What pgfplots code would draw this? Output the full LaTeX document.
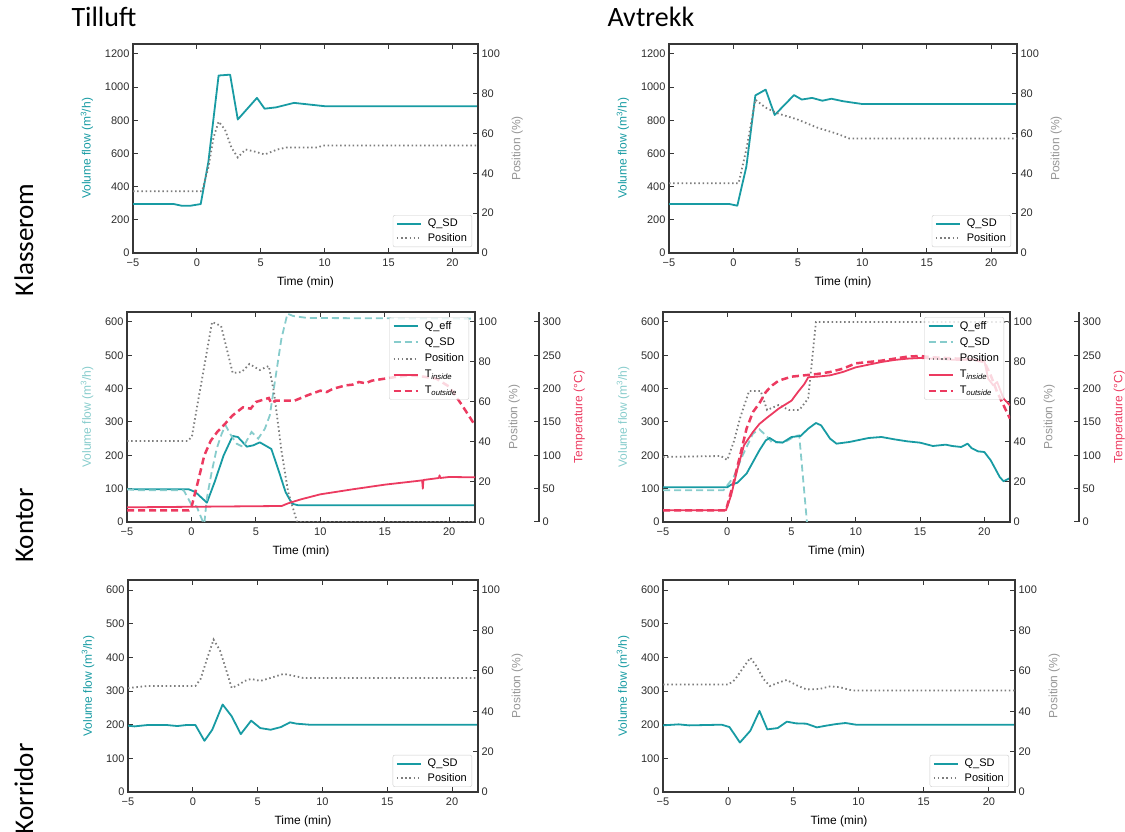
\documentclass[border=0pt]{standalone}
\usepackage{fontspec}
\setmainfont{Liberation Sans}
\newfontfamily\titlefont{Carlito}
\usepackage{pgfplots}
\pgfplotsset{compat=1.18}
\definecolor{qc}{RGB}{24,155,163}
\definecolor{qlc}{RGB}{135,204,204}
\definecolor{pc}{RGB}{125,125,125}
\definecolor{plab}{RGB}{150,150,150}
\definecolor{tc}{RGB}{236,58,96}
\definecolor{axc}{RGB}{55,55,55}
\definecolor{tickc}{RGB}{45,45,45}
\tikzset{
  myq/.style={color=qc, line width=1.8pt, line join=round},
  myql/.style={color=qlc, line width=1.8pt, dash pattern=on 7pt off 4pt},
  mypos/.style={color=pc, line width=1.8pt, dash pattern=on 1.5pt off 2.7pt},
  mytin/.style={color=tc, line width=1.8pt, line join=round},
  mytout/.style={color=tc, line width=2.5pt, dash pattern=on 7pt off 4pt},
}
\pgfplotsset{
  base/.style={scale only axis, xmin=-5, xmax=22, ymin=0,
    axis line style={line width=1.3pt, color=axc},
    every tick/.style={line width=1pt, color=axc},
    major tick length=5pt, tick align=inside,
    ticklabel style={font=\fontsize{11}{13}\selectfont, text=tickc},
    xticklabel style={yshift=-2pt},
    label style={font=\fontsize{12}{14}\selectfont},
    xlabel style={yshift=-4pt},
    /pgf/number format/assume math mode=true,
    /pgf/number format/set thousands separator={},
    xtick={-5,0,5,10,15,20}, xticklabels={−5,0,5,10,15,20},
    legend cell align=left,
    legend image code/.code={\draw[##1] (0pt,0pt) -- (24pt,0pt);},
    legend style={draw=black!20, fill=white, fill opacity=0.8, text opacity=1,
      rounded corners=2pt, font=\fontsize{11}{13}\selectfont, row sep=1pt,
      /tikz/every odd column/.append style={column sep=4pt}},
  },
  main/.style={base, ytick pos=left, xlabel={Time (min)},
    ylabel={Volume flow (m\textsuperscript{3}/h)}, ylabel style={yshift=5pt}},
  sec/.style={base, hide x axis, axis y line*=right, tick align=inside,
    ymax=105, ytick={0,20,...,100}, ylabel={Position (\%)}, ylabel style={text=plab, yshift=-5pt}},
  midleg/.style={legend style={at={(0.983,0.976)}, anchor=north east, row sep=3pt}},
}
\begin{document}
\begin{tikzpicture}
\path[use as bounding box] (0,0) rectangle (1125pt,832pt);
% titles
\node[anchor=base west, font=\titlefont\fontsize{28}{30}\selectfont] at (68pt,805pt) {Tilluft};
\node[anchor=base west, font=\titlefont\fontsize{28}{30}\selectfont] at (604pt,805pt) {Avtrekk};
\node[rotate=90, anchor=base east, font=\titlefont\fontsize{27}{30}\selectfont] at (33pt,652pt) {Klasserom};
\node[rotate=90, anchor=base east, font=\titlefont\fontsize{27}{30}\selectfont] at (33pt,347pt) {Kontor};
\node[rotate=90, anchor=base east, font=\titlefont\fontsize{27}{30}\selectfont] at (33pt,92pt) {Korridor};

% ===== Row 1 left =====
\begin{axis}[main, at={(133pt,579pt)}, anchor=south west, width=345pt, height=209pt,
  ymax=1260, ytick={0,200,...,1200}, ylabel style={text=qc}]
\addplot[myq] coordinates {(-5,295) (-1.8,295) (-1.2,285) (-0.5,285) (0.3,295) (0.9,550) (1.7,1070) (2.6,1075) (3.2,805) (4.7,935) (5.3,870) (6.2,878) (7.6,905) (10,885) (22,885)};
\end{axis}
\begin{axis}[sec, at={(133pt,579pt)}, anchor=south west, width=345pt, height=209pt,
  legend style={at={(0.983,0.028)}, anchor=south east}]
\addlegendimage{myq}\addlegendentry{Q\_SD}
\addplot[mypos] coordinates {(-5,31) (0.4,31) (0.9,43) (1.3,58) (1.7,66) (2.2,62) (2.7,53) (3.2,48) (3.8,52) (4.5,51) (5.3,49.5) (6.3,52) (7,53) (9.5,53) (9.8,54) (22,54)};
\addlegendentry{Position}
\end{axis}

% ===== Row 1 right =====
\begin{axis}[main, at={(669pt,579pt)}, anchor=south west, width=348pt, height=209pt,
  ymax=1260, ytick={0,200,...,1200}, ylabel style={text=qc}]
\addplot[myq] coordinates {(-5,295) (-0.3,295) (0.3,285) (1.0,520) (1.7,950) (2.5,985) (3.2,832) (4.7,952) (5.3,925) (6.1,935) (6.9,918) (7.6,930) (8.5,915) (10,898) (22,898)};
\end{axis}
\begin{axis}[sec, at={(669pt,579pt)}, anchor=south west, width=348pt, height=209pt,
  legend style={at={(0.983,0.028)}, anchor=south east}]
\addlegendimage{myq}\addlegendentry{Q\_SD}
\addplot[mypos] coordinates {(-5,35) (0.4,35) (1.0,52) (1.7,77) (2.5,73) (3.5,70) (5,67) (6.5,63) (8,60) (9,57.5) (22,57.5)};
\addlegendentry{Position}
\end{axis}

% ===== Row 2 left =====
\begin{axis}[main, at={(127pt,310pt)}, anchor=south west, width=348pt, height=210pt,
  ymax=630, ytick={0,100,...,600}, ylabel style={text=qlc}]
\addplot[myq] coordinates {(-5,98) (-0.2,98) (0.3,90) (1.2,58) (1.8,120) (2.5,200) (3.2,258) (3.6,255) (4.3,226) (4.8,230) (5.3,239) (5.8,228) (6.2,219) (6.8,150) (7.3,90) (7.8,55) (8.3,50) (22,50)};
\addplot[myql] coordinates {(-5,98) (-4,95) (-0.6,95) (0.03,50) (0.4,47) (0.95,-5) (1.0,-5) (1.19,70) (1.57,150) (1.96,220) (2.35,265) (2.65,290) (2.99,265) (3.5,235) (4.02,225) (4.66,270) (5.18,250) (5.7,280) (6.08,320) (6.47,420) (6.98,550) (7.45,625) (7.89,618) (9,612) (22,610)};
\end{axis}
\begin{axis}[sec, at={(127pt,310pt)}, anchor=south west, width=348pt, height=210pt]
\addplot[mypos] coordinates {(-5,40.5) (-0.3,40.5) (0.03,42.5) (0.5,60) (1.0,78) (1.6,100) (2.3,98) (2.8,85) (3.2,74.5) (3.9,75) (4.5,79) (5.3,76) (6.0,78) (6.4,65) (7.0,35) (7.5,15) (8.2,0) (22,0)};
\end{axis}
\begin{axis}[base, at={(127pt,310pt)}, anchor=south west, width=348pt, height=210pt,
  hide x axis, hide y axis, ymax=315, midleg]
\addlegendimage{myq}\addlegendentry{Q\_eff}
\addlegendimage{myql}\addlegendentry{Q\_SD}
\addlegendimage{mypos}\addlegendentry{Position}
\addplot[mytin] coordinates {(-5,22) (7.0,24) (7.5,28) (8.5,34) (10,41.5) (12.5,49) (15,56) (17.5,61.5) (17.9,62.5) (17.95,50) (18.0,63) (19.2,66) (19.25,70) (19.3,66) (20,67.5) (22,67)};
\addlegendentry{T\textsubscript{\textit{inside}}}
\addplot[mytout] coordinates {(-5,17.5) (-0.2,17.5) (0,22) (0.5,60) (1,100) (1.5,122) (2,135) (2.5,145) (3.2,160) (4,172) (4.6,170) (5,180) (6,186) (6.2,178) (6.5,182) (7,182) (8,182) (9,190) (10,197) (10.5,195) (11,200) (12,205) (12.5,206) (13,210) (13.5,208) (14,212) (15,215) (16,218) (17,220) (18,218) (19,215) (20,203) (21,175) (22,145)};
\addlegendentry{T\textsubscript{\textit{outside}}}
\end{axis}
\begin{axis}[base, at={(475pt,310pt)}, anchor=south west, width=64pt, height=210pt,
  hide x axis, axis y line*=right, tick align=inside, xmin=0, xmax=1, ymax=315,
  ytick={0,50,...,300}, ylabel={Temperature (°C)}, ylabel style={text=tc, yshift=-6pt}]
\addplot[draw=none] coordinates {(0,0)};
\end{axis}

% ===== Row 2 right =====
\begin{axis}[main, at={(663pt,310pt)}, anchor=south west, width=347pt, height=210pt,
  ymax=630, ytick={0,100,...,600}, ylabel style={text=qlc}]
\addplot[myql] coordinates {(-5,95) (-0.3,95) (0.5,135) (1.2,200) (2,265) (2.5,278) (3.0,260) (3.5,238) (4.5,240) (5.3,258) (5.6,260) (6.2,0) (6.4,-30)};
\addplot[myq] coordinates {(-5,104) (0,104) (0.3,112) (0.8,118) (1.5,145) (2.0,180) (2.5,215) (3.0,245) (3.3,252) (3.8,240) (4.3,238) (5.0,255) (5.7,258) (6.3,280) (6.9,297) (7.3,290) (8.0,250) (8.5,235) (9.5,240) (11,252) (12,255) (13,248) (14,242) (15,238) (16,228) (17,232) (17.5,228) (18.2,225) (18.7,235) (19,222) (19.5,212) (20,210) (20.5,185) (21.2,135) (21.5,122) (22,132)};
\end{axis}
\begin{axis}[sec, at={(663pt,310pt)}, anchor=south west, width=347pt, height=210pt]
\addplot[mypos] coordinates {(-5,32.5) (-0.5,33) (0,31) (0.5,40) (1,52) (1.7,65.5) (2.6,65.5) (3.1,56) (4.0,58.5) (4.8,56) (5.6,56) (6.1,60) (6.3,62) (6.9,100) (22,100)};
\end{axis}
\begin{axis}[base, at={(663pt,310pt)}, anchor=south west, width=347pt, height=210pt,
  hide x axis, hide y axis, ymax=315, midleg]
\addlegendimage{myq}\addlegendentry{Q\_eff}
\addlegendimage{myql}\addlegendentry{Q\_SD}
\addlegendimage{mypos}\addlegendentry{Position}
\addplot[mytin] coordinates {(-5,17.5) (-0.1,17.5) (0.3,40) (0.8,80) (1.3,115) (2.0,135) (2.5,147) (3.0,155) (4.0,170) (5.0,182) (5.5,195) (6.0,207) (6.3,217) (7.0,218) (8,220) (9,225) (10,232) (11,236) (12,240) (13,243) (14,245) (15,246) (16,245) (17,244) (18,243) (19,244) (20,242) (20.3,215) (20.7,205) (21,210) (21.5,185) (22,175)};
\addlegendentry{T\textsubscript{\textit{inside}}}
\addplot[mytout] coordinates {(-5,17.5) (-0.1,17.5) (0.5,60) (1.0,100) (1.5,140) (2.0,165) (2.5,178) (3,195) (3.5,205) (4,212) (5,218) (6,220) (7,222) (8,225) (9,230) (10,238) (11,240) (12,242) (13,245) (14,248) (15,249) (16,247) (17,246) (18,245) (19,244) (20,240) (20.5,220) (21,195) (21.5,175) (22,155)};
\addlegendentry{T\textsubscript{\textit{outside}}}
\end{axis}
\begin{axis}[base, at={(1010pt,310pt)}, anchor=south west, width=69pt, height=210pt,
  hide x axis, axis y line*=right, tick align=inside, xmin=0, xmax=1, ymax=315,
  ytick={0,50,...,300}, ylabel={Temperature (°C)}, ylabel style={text=tc, yshift=-6pt}]
\addplot[draw=none] coordinates {(0,0)};
\end{axis}

% ===== Row 3 left =====
\begin{axis}[main, at={(128pt,40pt)}, anchor=south west, width=350pt, height=212pt,
  ymax=630, ytick={0,100,...,600}, ylabel style={text=qc}]
\addplot[myq] coordinates {(-5,197) (-4.5,195) (-3.5,199) (-2,199) (-1.2,196) (-0.5,199) (0.2,199) (0.9,152) (1.5,185) (2.3,260) (3.0,225) (3.7,172) (4.5,212) (5.2,190) (6.0,185) (6.8,193) (7.5,207) (8.0,203) (9.0,200) (22,200)};
\end{axis}
\begin{axis}[sec, at={(128pt,40pt)}, anchor=south west, width=350pt, height=212pt,
  legend style={at={(0.983,0.024)}, anchor=south east}]
\addlegendimage{myq}\addlegendentry{Q\_SD}
\addplot[mypos] coordinates {(-5,51.5) (-3.5,52.5) (0.2,52.5) (0.6,56) (1.1,66) (1.6,75.5) (2.1,70) (2.5,62) (3.0,51.5) (3.5,53) (4.0,55) (4.5,56) (5.2,55) (6.0,56.5) (7.0,58.5) (7.8,57.5) (8.5,56.5) (22,56.5)};
\addlegendentry{Position}
\end{axis}

% ===== Row 3 right =====
\begin{axis}[main, at={(663pt,40pt)}, anchor=south west, width=352pt, height=212pt,
  ymax=630, ytick={0,100,...,600}, ylabel style={text=qc}]
\addplot[myq] coordinates {(-5,198) (-3.8,201) (-3,198) (-0.5,200) (0.1,193) (0.9,147) (1.7,182) (2.4,241) (3.0,186) (3.8,190) (4.5,209) (5.2,204) (6.0,203) (6.8,192) (7.5,197) (8.3,202) (9.0,205) (9.8,200) (22,200)};
\end{axis}
\begin{axis}[sec, at={(663pt,40pt)}, anchor=south west, width=352pt, height=212pt,
  legend style={at={(0.983,0.024)}, anchor=south east}]
\addlegendimage{myq}\addlegendentry{Q\_SD}
\addplot[mypos] coordinates {(-5,53.2) (0,53.2) (0.5,55.5) (1.2,62) (1.7,66.5) (2.2,62) (2.7,56) (3.2,52.5) (4.0,54.5) (4.5,55.5) (5.2,53) (6.0,50.8) (7.0,51) (7.8,52.3) (8.5,52) (9.5,50.3) (22,50.3)};
\addlegendentry{Position}
\end{axis}
\end{tikzpicture}
\end{document}
